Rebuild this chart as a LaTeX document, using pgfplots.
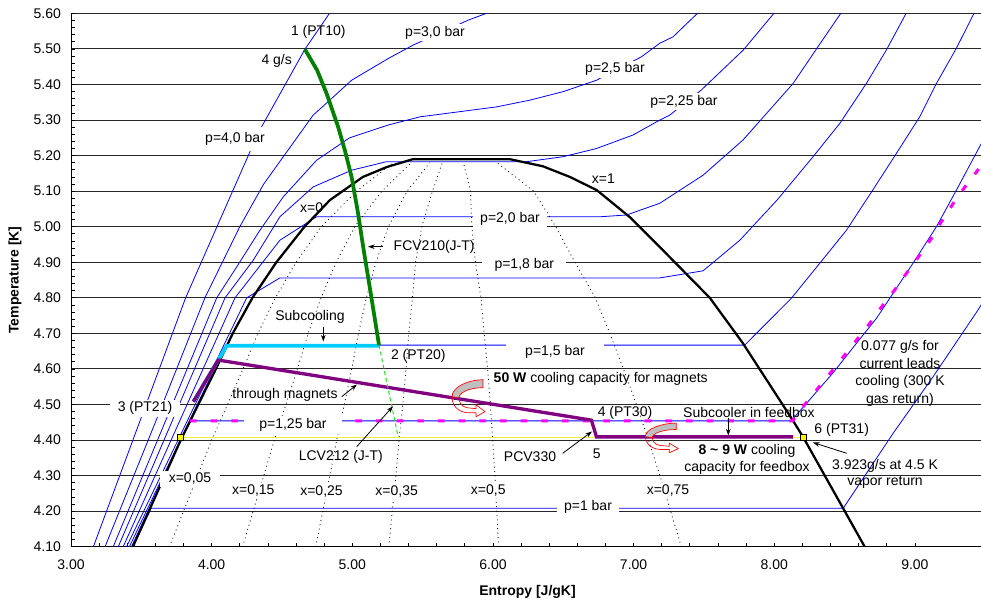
\documentclass[border=0pt]{standalone}
\usepackage{pgfplots}
\pgfplotsset{compat=1.18}
\usepackage{fontspec}
\setmainfont{Liberation Sans}
\usetikzlibrary{arrows.meta}
\definecolor{isoblue}{RGB}{0,0,255}
\definecolor{dgreen}{RGB}{0,128,0}
\definecolor{cyanl}{RGB}{0,204,255}
\definecolor{purp}{RGB}{128,0,128}
\definecolor{magen}{RGB}{255,0,255}
\definecolor{yell}{RGB}{240,240,60}
\definecolor{lgreen}{RGB}{30,230,30}
\newcommand\fs{\fontsize{10.5}{12.6}\selectfont}
\newcommand\icon[3]{%
\begin{scope}[shift={(#1,#2)}, yscale=#3]
\filldraw[red, fill=black!25, line width=0.5pt] (28,-17) .. controls (14,-17) and (-3,-10) .. (-3,0) -- (4,1) .. controls (4,-4) and (14,-9) .. (28,-9) -- cycle;
\draw[red, line width=0.5pt] (-3,0) .. controls (-3,8) and (2,15) .. (12,16) -- (21,16) -- (21,20) -- (30,15) -- (21,8) -- (21,12) -- (12,11) .. controls (6,10) and (4,5) .. (4,1);
\end{scope}}
\begin{document}
\begin{tikzpicture}[font=\fs]
\path[use as bounding box] (0,0) rectangle (735.75pt,452.25pt);
\begin{axis}[
 at={(53.25pt,42.2pt)}, anchor=south west,
 width=682.5pt, height=400pt, scale only axis,
 xmin=3, xmax=9.47, ymin=4.1, ymax=5.6,
 axis x line*=bottom, axis y line*=left,
 axis line style={black, line width=0.75pt, -},
 xtick={3,4,5,6,7,8,9}, minor x tick num=4,
 ytick={4.1,4.2,4.3,4.4,4.5,4.6,4.7,4.8,4.9,5.0,5.1,5.2,5.3,5.4,5.5,5.6},
 minor y tick num=4,
 tick align=inside, major tick length=3pt, minor tick length=3pt,
 tick style={black, line width=0.6pt},
 ymajorgrids, grid style={black!85, line width=0.75pt},
 /pgf/number format/assume math mode=true,
 xticklabel style={/pgf/number format/fixed, /pgf/number format/fixed zerofill, /pgf/number format/precision=2, font=\fs, yshift=-6pt},
 yticklabel style={/pgf/number format/fixed, /pgf/number format/fixed zerofill, /pgf/number format/precision=2, font=\fs, xshift=-4pt},
 clip=true,
]
% isobars
\addplot[isoblue, line width=0.6pt] coordinates {(3.159,4.10) (3.815,4.80) (4.277,5.215) (4.355,5.281) (4.663,5.499) (4.853,5.609)};
\addplot[isoblue, line width=0.6pt] coordinates {(3.242,4.10) (3.60,4.45) (3.952,4.80) (4.20,5.00) (4.37,5.12) (4.544,5.216) (4.722,5.314) (4.84,5.356) (4.995,5.412) (5.255,5.473) (5.433,5.511) (5.824,5.581) (6.013,5.609)};
\addplot[isoblue, line width=0.6pt] coordinates {(3.30,4.10) (4.036,4.80) (4.178,4.887) (4.343,4.99) (4.509,5.084) (4.746,5.187) (4.98,5.25) (5.255,5.286) (5.48,5.309) (6.025,5.337) (6.262,5.356) (6.50,5.38) (6.736,5.412) (7.056,5.478) (7.186,5.516) (7.28,5.534) (7.48,5.61)};
\addplot[isoblue, line width=0.6pt] coordinates {(3.336,4.10) (4.095,4.80) (4.296,4.906) (4.485,5.028) (4.722,5.112) (4.995,5.159) (5.244,5.183) (6.24,5.183) (6.50,5.197) (6.736,5.22) (6.996,5.258) (7.186,5.30) (7.257,5.314) (7.48,5.384) (7.78,5.497) (8.016,5.609)};
\addplot[isoblue, line width=0.6pt] coordinates {(3.371,4.10) (4.166,4.80) (4.485,4.962) (4.746,5.028) (6.76,5.028) (6.95,5.033) (7.186,5.066) (7.494,5.145) (7.778,5.244) (8.134,5.403) (8.30,5.50) (8.49,5.61)};
\addplot[isoblue, line width=0.6pt] coordinates {(3.395,4.10) (4.249,4.80) (4.485,4.856) (7.186,4.856) (7.494,4.876) (7.755,4.962) (8.02,5.075) (8.276,5.197) (8.465,5.29) (8.655,5.403) (8.797,5.497) (8.951,5.61)};
\addplot[isoblue, line width=0.6pt] coordinates {(3.415,4.10) (4.10,4.667) (7.79,4.667) (8.039,4.766) (8.122,4.799) (8.323,4.897) (8.513,4.99) (8.70,5.103) (8.868,5.206) (9.034,5.309) (9.153,5.403) (9.295,5.502) (9.425,5.604)};
\addplot[isoblue, line width=0.6pt] coordinates {(3.43,4.10) (3.846,4.454) (8.12,4.454) (8.20,4.49) (8.42,4.59) (8.60,4.68) (8.726,4.742) (8.986,4.897) (9.153,5.0) (9.295,5.103) (9.46,5.225) (9.55,5.29)};
\addplot[isoblue, line width=0.6pt] coordinates {(3.44,4.10) (3.57,4.208) (8.49,4.208) (8.845,4.419) (9.129,4.578) (9.449,4.766) (9.55,4.83)};
% quality lines
\addplot[black, line width=0.6pt, dash pattern=on 0.7pt off 2.6pt] coordinates {(3.70,4.10) (3.80,4.20) (3.90,4.30) (4.00,4.40) (4.113,4.50) (4.223,4.60) (4.329,4.70) (4.453,4.80) (4.60,4.90) (4.78,5.00) (5.03,5.10) (5.29,5.18)};
\addplot[black, line width=0.6pt, dash pattern=on 0.7pt off 2.6pt] coordinates {(4.22,4.10) (4.295,4.20) (4.371,4.30) (4.445,4.40) (4.528,4.50) (4.61,4.60) (4.686,4.70) (4.778,4.80) (4.885,4.90) (5.017,5.00) (5.21,5.10) (5.42,5.18)};
\addplot[black, line width=0.6pt, dash pattern=on 0.7pt off 2.6pt] coordinates {(4.74,4.10) (4.79,4.20) (4.84,4.30) (4.889,4.40) (4.943,4.50) (4.996,4.60) (5.044,4.70) (5.10,4.80) (5.168,4.90) (5.256,5.00) (5.39,5.10) (5.55,5.18)};
\addplot[black, line width=0.6pt, dash pattern=on 0.7pt off 2.6pt] coordinates {(5.26,4.10) (5.284,4.20) (5.31,4.30) (5.332,4.40) (5.359,4.50) (5.382,4.60) (5.401,4.70) (5.428,4.80) (5.45,4.90) (5.494,5.00) (5.57,5.10) (5.64,5.18)};
\addplot[black, line width=0.6pt, dash pattern=on 0.7pt off 2.6pt] coordinates {(6.04,4.10) (6.027,4.20) (6.014,4.30) (5.998,4.40) (5.982,4.50) (5.962,4.60) (5.938,4.70) (5.915,4.80) (5.875,4.90) (5.85,5.00) (5.84,5.10) (5.79,5.18)};
\addplot[black, line width=0.6pt, dash pattern=on 0.7pt off 2.6pt] coordinates {(7.34,4.10) (7.263,4.20) (7.187,4.30) (7.106,4.40) (7.02,4.50) (6.928,4.60) (6.831,4.70) (6.728,4.80) (6.583,4.90) (6.447,5.00) (6.29,5.10) (6.03,5.18)};
% saturation dome
\addplot[black, line width=1.7pt] coordinates {(3.44,4.10) (3.61,4.25) (3.78,4.40) (4.03,4.60) (4.15,4.70) (4.29,4.80) (4.46,4.90) (4.66,5.00) (4.841,5.075) (5.075,5.14) (5.246,5.168) (5.431,5.19) (6.12,5.19) (6.355,5.17) (6.547,5.14) (6.738,5.103) (6.973,5.027) (7.186,4.943) (7.542,4.80) (7.776,4.673) (8.131,4.456) (8.203,4.41) (8.487,4.21) (8.643,4.10)};
% process lines
\addplot[yell, line width=0.8pt] coordinates {(3.78,4.407) (8.205,4.407)};
\addplot[magen, line width=2.3pt, dash pattern=on 5pt off 10.5pt] coordinates {(3.846,4.454) (8.13,4.454) (8.205,4.494) (8.406,4.592) (8.679,4.728) (8.773,4.78) (8.856,4.822) (8.94,4.869) (9.034,4.92) (9.117,4.967) (9.188,5.014) (9.27,5.064) (9.354,5.111) (9.449,5.16) (9.55,5.22)};
\addplot[cyanl, line width=2.8pt] coordinates {(3.87,4.508) (4.107,4.665) (5.196,4.665)};
\addplot[purp, line width=2.5pt] coordinates {(3.87,4.508) (4.047,4.625) (6.70,4.456) (6.736,4.409) (8.134,4.409)};
\addplot[lgreen, line width=0.75pt, dash pattern=on 3pt off 2pt] coordinates {(5.19,4.667) (5.326,4.409)};
\addplot[dgreen, line width=2.8pt] coordinates {(4.663,5.499) (4.75,5.44) (4.817,5.375) (4.90,5.28) (4.947,5.215) (4.995,5.14) (5.04,5.04) (5.077,4.944) (5.137,4.798) (5.19,4.667)};
\addplot[only marks, mark=square*, mark size=2.2pt, mark options={fill=yellow, draw=black, line width=0.5pt}] coordinates {(3.78,4.407) (8.205,4.407)};
\end{axis}
\begin{scope}[shift={(0,452.25pt)}, x=0.75pt, y=-0.75pt]
\tikzset{lab/.style={fill=white, inner sep=1.5pt}, arr/.style={-{Stealth[length=5pt,width=3.5pt]}, line width=0.6pt}}
\node[font=\fs\bfseries] at (527.5,592) {Entropy [J/gK]};
\node[font=\fs\bfseries, rotate=90] at (15,280) {Temperature [K]};
% isobar labels
\node[lab, inner ysep=4pt] at (235,139.3) {p=4,0 bar};
\node[lab] at (435,32.7) {p=3,0 bar};
\node[lab] at (615,69.3) {p=2,5 bar};
\node[lab] at (684,101.7) {p=2,25 bar};
\node[lab, minimum width=56pt] at (510,219.3) {p=2,0 bar};
\node[lab, minimum width=63pt] at (524.3,265) {p=1,8 bar};
\node[lab, minimum width=73.5pt] at (555,351.7) {p=1,5 bar};
\node[lab, minimum width=73.5pt] at (293,425) {p=1,25 bar};
\node[lab, minimum width=47pt] at (588,507) {p=1 bar};
% quality labels
\node at (311.7,207.3) {x=0};
\node at (603.3,179) {x=1};
\node[lab, minimum width=45pt] at (190,479) {x=0,05};
\node[lab] at (253.3,490.7) {x=0,15};
\node[lab] at (321.5,491.5) {x=0,25};
\node[lab] at (396.7,491.7) {x=0,35};
\node[lab] at (488.3,490.5) {x=0,5};
\node[lab] at (668,491) {x=0,75};
% process annotations
\node at (318.3,32.3) {1 (PT10)};
\node at (276.7,60.7) {4 g/s};
\node[anchor=west] at (389,246.7) {FCV210(J-T)};
\draw[arr] (383,246.7) -- (368,246.7);
\node at (310,317) {Subcooling};
\draw[arr] (323.3,326.7) -- (323.3,341.5);
\node at (418.3,356) {2 (PT20)};
\node at (285,395) {through magnets};
\draw[arr] (341.7,396.7) -- (357,384.5);
\node[anchor=west] at (489,379) {\textbf{50 W} cooling capacity for magnets};
\node at (625,412.7) {4 (PT30)};
\node at (749,412.3) {Subcooler in feedbox};
\draw[arr] (728.3,418.3) -- (728.3,435.5);
\node[lab, minimum width=52.5pt] at (145,408.3) {3 (PT21)};
\node at (841.7,430) {6 (PT31)};
\node at (596.7,453.3) {5};
\node at (530,456.7) {PCV330};
\draw[arr] (562.7,453.3) -- (592,431.5);
\node at (340.8,456.7) {LCV212 (J-T)};
\draw[arr] (356.7,446.7) -- (393,406.3);
\node[align=center, inner sep=0pt] at (747,459.5) {\textbf{8 \textasciitilde\ 9 W} cooling\\capacity for feedbox};
\node[align=center, inner sep=0pt] at (885,473.8) {3.923g/s at 4.5 K\\vapor return};
\draw[arr] (846.7,453.3) -- (813,442.5);
\node[align=center, inner sep=0pt, font=\fontsize{10.5}{13.3}\selectfont] at (900,373.3) {0.077 g/s for\\current leads\\cooling (300 K\\gas return)};
\icon{455}{396.7}{1}
\icon{648.3}{436.7}{0.8}
\end{scope}
\end{tikzpicture}
\end{document}
